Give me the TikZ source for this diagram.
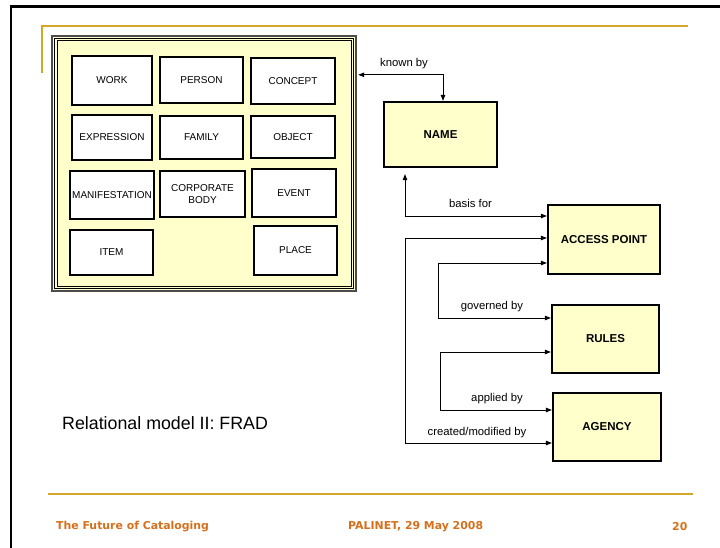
\documentclass[tikz,border=0pt]{standalone}
\usepackage{fontspec}
\setmainfont{Liberation Sans}
\newfontfamily\footfont{DejaVu Sans}
\usetikzlibrary{arrows.meta}

\definecolor{paleyellow}{RGB}{255,255,204}
\definecolor{goldline}{RGB}{214,166,40}
\definecolor{footorange}{RGB}{214,112,28}

\tikzset{
  entbox/.style={draw, fill=white, line width=2.2pt, inner sep=0pt, align=center,
    font=\fontsize{10}{12}\selectfont},
  relbox/.style={draw, fill=paleyellow, line width=2.2pt, inner sep=0pt, align=center,
    font=\fontsize{11.5}{13}\selectfont\bfseries},
  biarrow/.style={line width=0.9pt, {Triangle[length=6pt,width=4.5pt]}-{Triangle[length=6pt,width=4.5pt]}},
  rellabel/.style={inner sep=0pt, font=\fontsize{11.3}{13}\selectfont},
  foot/.style={inner sep=0pt, anchor=west, text=footorange, font=\footfont\bfseries\fontsize{10.9}{12}\selectfont}
}

\begin{document}
\begin{tikzpicture}[x=1pt, y=-1pt]
\useasboundingbox (0,0) rectangle (720,548);
\fill[white] (0,0) rectangle (720,548);

% slide frame and rules
\draw[line width=2.2pt] (11,548) -- (11,6.5) -- (720,6.5);
\draw[goldline, line width=2pt] (41.8,73) -- (41.8,26) -- (688,26);
\draw[goldline, line width=2pt] (48,493.5) -- (693,493.5);

% entity panel
\node[draw=black!70, fill=paleyellow, line width=2.4pt, minimum width=304pt, minimum height=255pt, inner sep=0pt]
  (ent) at (204,163.5) {};
\draw[line width=1.1pt] ([xshift=3.8pt,yshift=-3.8pt]ent.north west) rectangle ([xshift=-3.8pt,yshift=3.8pt]ent.south east);
\draw[line width=0.6pt] ([xshift=6pt,yshift=-6pt]ent.north west) rectangle ([xshift=-6pt,yshift=6pt]ent.south east);

\node[entbox, minimum width=80pt, minimum height=49pt] (work) at (112,80.5) {WORK};
\node[entbox, minimum width=83pt, minimum height=46pt] (person) at (201.5,80) {PERSON};
\node[entbox, minimum width=84pt, minimum height=46pt] (concept) at (293,81) {CONCEPT};
\node[entbox, minimum width=80pt, minimum height=45pt] (expression) at (112,137.5) {EXPRESSION};
\node[entbox, minimum width=83pt, minimum height=43pt] (family) at (201.5,137.5) {FAMILY};
\node[entbox, minimum width=84pt, minimum height=42pt] (object) at (293,137) {OBJECT};
\node[entbox, minimum width=84pt, minimum height=48pt] (manif) at (112,195) {MANIFESTATION};
\node[entbox, minimum width=85pt, minimum height=46pt] (corp) at (202.5,194) {CORPORATE\\BODY};
\node[entbox, minimum width=84pt, minimum height=48pt] (event) at (294,193) {EVENT};
\node[entbox, minimum width=83pt, minimum height=45pt] (item) at (111.5,252.5) {ITEM};
\node[entbox, minimum width=83pt, minimum height=49pt] (place) at (295.5,250.5) {PLACE};

% authority entities
\node[relbox, minimum width=113pt, minimum height=65pt] (name) at (440.5,134.5) {NAME};
\node[relbox, minimum width=112pt, minimum height=69pt] (access) at (604,239.5) {ACCESS POINT};
\node[relbox, minimum width=107pt, minimum height=68pt] (rules) at (605.5,339) {RULES};
\node[relbox, minimum width=108pt, minimum height=68pt] (agency) at (607,427) {AGENCY};

% relationships
\draw[biarrow] ([xshift=2.5pt]name.north) |- ([xshift=1pt,yshift=-40pt]ent.north east);
\draw[biarrow] ([xshift=-35.5pt,yshift=-6pt]name.south) |- ([yshift=23.5pt]access.west);
\draw[biarrow] ([yshift=1.5pt]access.west) -- ++(-141,0) |- ([yshift=-16pt]agency.west);
\draw[biarrow] ([yshift=-23.5pt]access.west) -- ++(-108,0) |- ([yshift=21pt]rules.west);
\draw[biarrow] ([yshift=-13pt]rules.west) -- ++(-110,0) |- ([yshift=17pt]agency.west);

\node[rellabel] (lknown) at (404,64) {known by};
\node[rellabel] (lbasis) at (470.5,203) {basis for};
\node[rellabel] (lgov) at (492,307) {governed by};
\node[rellabel] (lapp) at (497,399) {applied by};
\node[rellabel] (lcre) at (477,433) {created/modified by};

% caption and footer
\node[inner sep=0pt, anchor=west, font=\fontsize{17.8}{20}\selectfont] (caption) at (62,423) {Relational model II: FRAD};
\node[foot] (f1) at (56,527) {The Future of Cataloging};
\node[foot] (f2) at (348,527) {PALINET, 29 May 2008};
\node[foot] (f3) at (672,527) {20};
\end{tikzpicture}
\end{document}
